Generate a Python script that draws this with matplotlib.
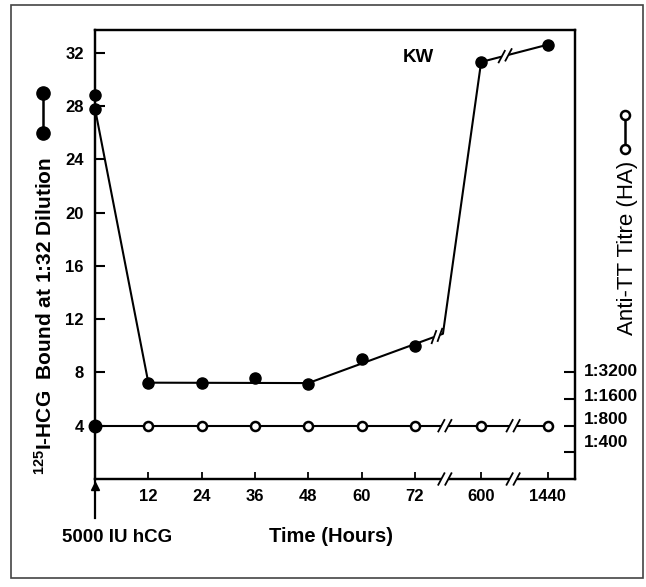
import numpy as np
import matplotlib
matplotlib.use("Agg")
import matplotlib.pyplot as plt
from matplotlib.lines import Line2D
from matplotlib.patches import Rectangle
from matplotlib.transforms import IdentityTransform

plt.rcParams['font.family'] = ['Liberation Sans', 'DejaVu Sans']
plt.rcParams['font.weight'] = 'bold'
plt.rcParams['mathtext.fontset'] = 'custom'
plt.rcParams['mathtext.rm'] = 'Liberation Sans:bold'
plt.rcParams['mathtext.default'] = 'rm'

# ---------------- data ----------------
hour_ticks = [12, 24, 36, 48, 60, 72, 600, 1440]
hour_tick_labels = ['12', '24', '36', '48', '60', '72', '600', '1440']

hcg_hours = [0, 0, 12, 24, 36, 48, 60, 72, 600, 1440]
hcg_bound = [28.85, 27.8, 7.23, 7.23, 7.6, 7.15, 9.0, 10.0, 31.3, 32.6]

# drawn connecting line of the 125I-HCG series (vertex at the axis break ~295 h)
hcg_line_hours = [0, 12, 48, 295, 600, 1440]
hcg_line_bound = [27.8, 7.23, 7.2, 10.9, 31.3, 32.6]

tt_hours = [0, 12, 24, 36, 48, 60, 72, 600, 1440]
tt_titre = [800, 800, 800, 800, 800, 800, 800, 800, 800]

left_ticks = [4, 8, 12, 16, 20, 24, 28, 32]
left_tick_labels = ['4', '8', '12', '16', '20', '24', '28', '32']
titre_ticks = [400, 800, 1600, 3200]
titre_labels = ['1:400', '1:800', '1:1600', '1:3200']

# ---------------- scales ----------------
HOUR_KNOTS = [0, 72, 600, 1440, 2000]
POS_KNOTS = [0, 6, 7.24, 8.49, 9.0]


def fwd_x(h):
    return np.interp(h, HOUR_KNOTS, POS_KNOTS)


def inv_x(p):
    return np.interp(p, POS_KNOTS, HOUR_KNOTS)


def fwd_t(d):
    with np.errstate(divide='ignore', invalid='ignore'):
        return 2 * np.log2(np.asarray(d, dtype=float) / 200.0)


def inv_t(v):
    return 200.0 * 2 ** (np.asarray(v, dtype=float) / 2.0)


W, H = 646, 587
fig = plt.figure(figsize=(W / 100, H / 100), dpi=100)
ax = fig.add_axes([95 / W, 108 / H, 480 / W, 449 / H])
ax.set_xscale('function', functions=(fwd_x, inv_x))
YTOP = 33.7
ax.set_ylim(0, YTOP)
ax.set_xlim(0, inv_x(9.0))

LW = 1.6
for s in ax.spines.values():
    s.set_linewidth(LW)

ax.set_xticks(hour_ticks)
ax.set_xticklabels(hour_tick_labels)
ax.set_yticks(left_ticks)
ax.set_yticklabels(left_tick_labels)
ax.xaxis.set_minor_locator(matplotlib.ticker.NullLocator())
ax.tick_params(axis='y', direction='in', length=7, width=1.5, labelsize=12, pad=8)
ax.tick_params(axis='x', direction='in', length=5, width=1.3, labelsize=12, pad=7)

# 125I-HCG series
ax.plot(hcg_line_hours, hcg_line_bound, '-', color='black', lw=1.5, zorder=3)
ax.plot(hcg_hours, hcg_bound, 'o', color='black', ms=8, zorder=4, clip_on=False)

# right axis (titre)
ax2 = ax.twinx()
ax2.set_yscale('function', functions=(fwd_t, inv_t))
ax2.set_ylim(inv_t(0), inv_t(YTOP))
for s in ax2.spines.values():
    s.set_linewidth(LW)
ax2.set_yticks(titre_ticks)
ax2.set_yticklabels([])
ax2.yaxis.set_minor_locator(matplotlib.ticker.NullLocator())
ax2.tick_params(axis='y', direction='in', length=8, width=1.5)
label_offsets_px = [10, 6, 3, 1]
for d, lab, off in zip(titre_ticks, titre_labels, label_offsets_px):
    ax2.annotate(lab, xy=(1, d), xycoords=('axes fraction', 'data'),
                 xytext=(9, off), textcoords='offset pixels',
                 ha='left', va='center', fontsize=12.5, fontweight='bold',
                 annotation_clip=False)

ax2.plot(tt_hours, tt_titre, '-', color='black', lw=1.5, zorder=3)
ax2.plot(tt_hours[1:], tt_titre[1:], 'o', mfc='white', mec='black', mew=1.8,
         ms=6.5, zorder=4)
ax2.plot(tt_hours[:1], tt_titre[:1], 'o', color='black', ms=9, zorder=4,
         clip_on=False)

# extension of the left axis below origin and injection arrow
ax.add_line(Line2D([0, 0], [0, -39 / 449], transform=ax.transAxes, color='black',
                   lw=LW, clip_on=False))
ax.plot([0], [-0.5], marker='^', color='black', ms=6, clip_on=False)

# ---------------- break marks ----------------
fig.canvas.draw()
TD = ax.transData


def disp(h, v):
    return np.array(TD.transform((h, v)), dtype=float)


def break_mark(c, u_in, u_out, half=3.5, slash=13, angle=62):
    pa = c - u_in * half
    pb = c + u_out * half
    fig.add_artist(Line2D([pa[0], c[0], pb[0]], [pa[1], c[1], pb[1]],
                          transform=IdentityTransform(), color='white', lw=4,
                          solid_capstyle='butt', zorder=10))
    v = np.array([np.cos(np.radians(angle)), np.sin(np.radians(angle))]) * slash / 2
    for p in (pa, pb):
        fig.add_artist(Line2D([p[0] - v[0], p[0] + v[0]], [p[1] - v[1], p[1] + v[1]],
                              transform=IdentityTransform(), color='black',
                              lw=1.3, zorder=11))


def unit(a, b):
    d = b - a
    return d / np.hypot(*d)


def point_on(a, b, xd):
    t = (xd - a[0]) / (b[0] - a[0])
    return a + t * (b - a)


ex = np.array([1.0, 0.0])
for p in (6.56, 7.84):
    h = inv_x(p)
    # x axis
    break_mark(disp(h, 0), ex, ex)
    # titre line
    c = np.array(ax2.transData.transform((h, tt_titre[0])), dtype=float)
    break_mark(c, ex, ex)

# HCG line: break just before the kink between 72 h and 600 h
a = disp(hcg_line_hours[2], hcg_line_bound[2])
k = disp(hcg_line_hours[3], hcg_line_bound[3])
u = unit(a, k)
break_mark(point_on(a, k, k[0] - 6), u, u, half=3.2, angle=70)
# HCG line between 600 h and 1440 h
a = disp(hcg_line_hours[4], hcg_line_bound[4])
b = disp(hcg_line_hours[5], hcg_line_bound[5])
xd = disp(inv_x(7.69), 0)[0]
u = unit(a, b)
break_mark(point_on(a, b, xd), u, u)

# ---------------- texts ----------------
def fx(x):
    return x / W


def fy(y):
    return 1 - y / H


fig.text(fx(45), fy(316), r'$^{125}$I-HCG  Bound at 1:32 Dilution', rotation=90,
         ha='center', va='center', fontsize=15, fontweight='bold')
fig.text(fx(628), fy(248), 'Anti-TT Titre (HA)', rotation=90, ha='center',
         va='center', fontsize=16, fontweight='normal')
fig.text(fx(418), fy(58), 'KW', ha='center', va='center', fontsize=13.5,
         fontweight='bold')
fig.text(fx(331), fy(536), 'Time (Hours)', ha='center', va='center',
         fontsize=14.5, fontweight='bold')
fig.text(fx(117), fy(538), '5000 IU hCG', ha='center', va='center',
         fontsize=13.5, fontweight='bold')

# legend dumbbells
fig.add_artist(Line2D([fx(43), fx(43)], [fy(93), fy(133)], color='black', lw=1.8,
                      marker='o', ms=9.5, transform=fig.transFigure))
fig.add_artist(Line2D([fx(625), fx(625)], [fy(115), fy(149)], color='black', lw=1.8,
                      marker='o', ms=6.5, mfc='white', mew=1.8,
                      transform=fig.transFigure))

# outer frame
fig.add_artist(Rectangle((fx(11), fy(578)), (643 - 11) / W, (578 - 5) / H,
                         transform=fig.transFigure, fill=False, ec='#444444',
                         lw=1.2))

fig.savefig('out.png', dpi=100)
